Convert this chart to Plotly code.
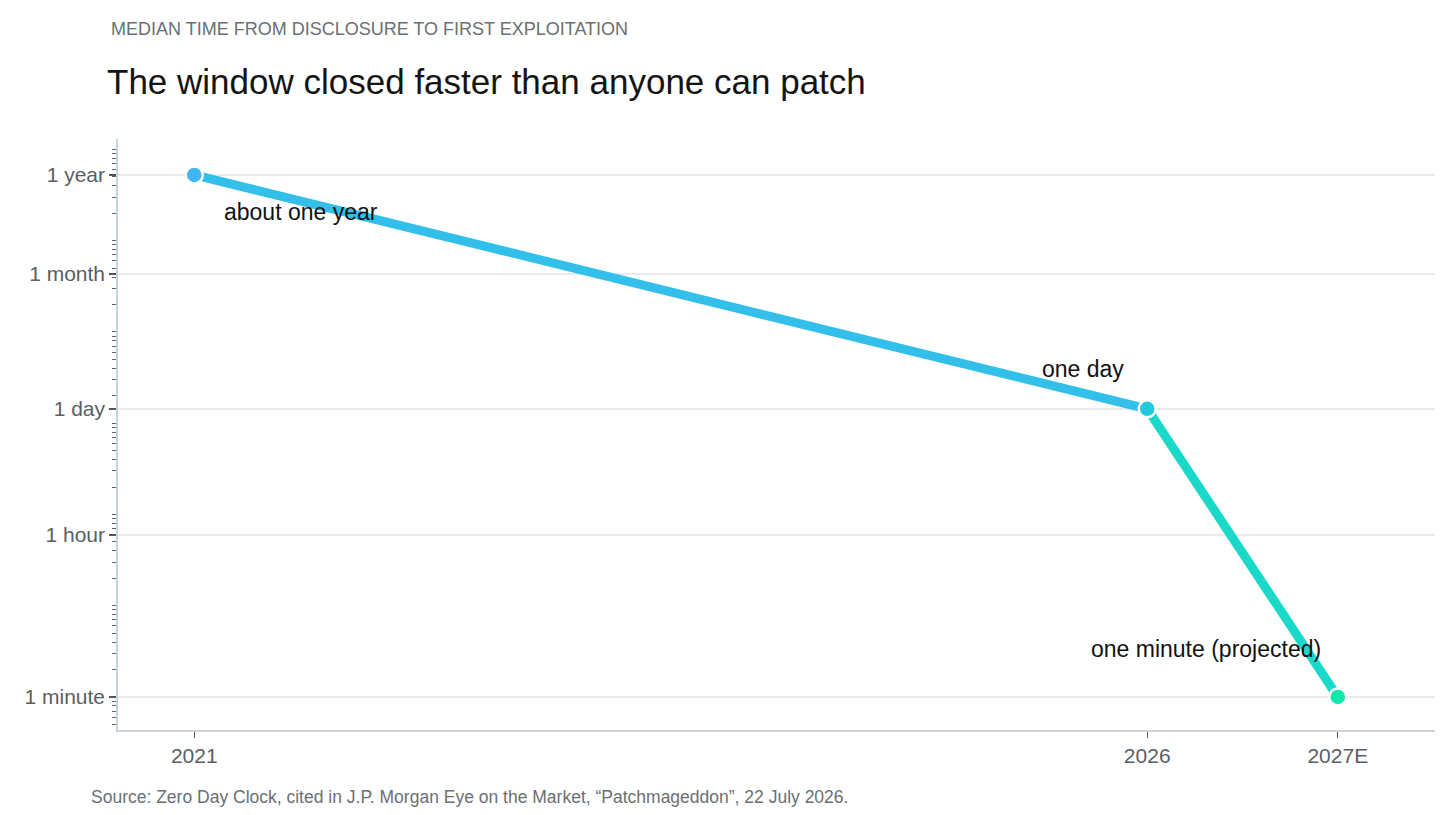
import numpy as np
import plotly.graph_objects as go

# ---- data ----
years = [2021, 2026, 2027]
year_labels = ["2021", "2026", "2027E"]
minutes = [525600, 1440, 1]  # median time from disclosure to first exploitation, in minutes
point_labels = ["about one year", "one day", "one minute (projected)"]
tick_values = [1, 60, 1440, 43200, 525600]
tick_labels = ["1 minute", "1 hour", "1 day", "1 month", "1 year"]

# ---- styles ----
point_colors = ["#3db8f2", "#22cbdc", "#12e8ac"]
seg_colors = ["#32c0ea", "#1ad9c8"]
FONT = "Liberation Sans, Arial, sans-serif"

# the page places the figure 8px in from the top-left corner
OFF = 8
W, H = 1456 - OFF, 815 - OFF
PL, PR, PT, PB = 118 - OFF, 21, 139 - OFF, 85
PW = W - PL - PR
PH = H - PT - PB


def px_x(px):
    return (px - OFF - PL) / PW


def px_y(py):
    return (H - PB - (py - OFF)) / PH


fig = go.Figure()
for i in range(len(years) - 1):
    fig.add_trace(go.Scatter(
        x=years[i:i + 2], y=minutes[i:i + 2], mode="lines",
        line=dict(color=seg_colors[i], width=9), hoverinfo="skip", showlegend=False))
fig.add_trace(go.Scatter(
    x=years, y=minutes, mode="markers",
    marker=dict(size=17, color=point_colors, line=dict(color="white", width=2.5)),
    showlegend=False))

offsets = [(28, -37, "left"), (-21, 40, "right"), (-15, 48, "right")]
for (xv, yv, lab, (dx, dy, anc)) in zip(years, minutes, point_labels, offsets):
    fig.add_annotation(x=xv, y=np.log10(yv), text=lab, showarrow=False,
                       xanchor=anc, yanchor="middle", xshift=dx, yshift=dy,
                       font=dict(family=FONT, size=23, color="#111111"))

fig.add_annotation(xref="paper", yref="paper", x=px_x(109), y=px_y(29),
                   text="MEDIAN TIME FROM DISCLOSURE TO FIRST EXPLOITATION",
                   showarrow=False, xanchor="left", yanchor="middle",
                   font=dict(family=FONT, size=18, color="#6b6f73"))
fig.add_annotation(xref="paper", yref="paper", x=px_x(105), y=px_y(81),
                   text="The window closed faster than anyone can patch",
                   showarrow=False, xanchor="left", yanchor="middle",
                   font=dict(family=FONT, size=35, color="#141414"))
fig.add_annotation(xref="paper", yref="paper", x=px_x(89), y=px_y(797),
                   text="Source: Zero Day Clock, cited in J.P. Morgan Eye on the Market, \u201cPatchmageddon\u201d, 22 July 2026.",
                   showarrow=False, xanchor="left", yanchor="middle",
                   font=dict(family=FONT, size=17.5, color="#6b6f73"))

fig.update_layout(
    width=W, height=H,
    margin=dict(l=PL, r=PR, t=PT, b=PB),
    paper_bgcolor="white", plot_bgcolor="white",
    font=dict(family=FONT),
    xaxis=dict(
        range=[2020.60, 2027.51], tickmode="array", tickvals=years, ticktext=year_labels,
        showgrid=False, zeroline=False, showline=True, linecolor="#cfd3d6", linewidth=1.5,
        ticks="outside", ticklen=6, tickcolor="#555", tickwidth=1,
        tickfont=dict(family=FONT, size=21, color="#5a5e63")),
    yaxis=dict(
        type="log", range=[-0.362, 6.115], tickmode="array", tickvals=tick_values,
        ticktext=tick_labels, showgrid=True, gridcolor="#e9eaeb", gridwidth=1.5,
        zeroline=False, showline=True, linecolor="#c6d3d8", linewidth=1.5,
        ticks="outside", ticklen=7, tickcolor="#555", tickwidth=1.5,
        tickfont=dict(family=FONT, size=21, color="#5a5e63"),
        minor=dict(ticks="outside", ticklen=4, dtick="D1", tickcolor="#666",
                   tickwidth=1, showgrid=False)),
)

fig.write_html("out.html")
